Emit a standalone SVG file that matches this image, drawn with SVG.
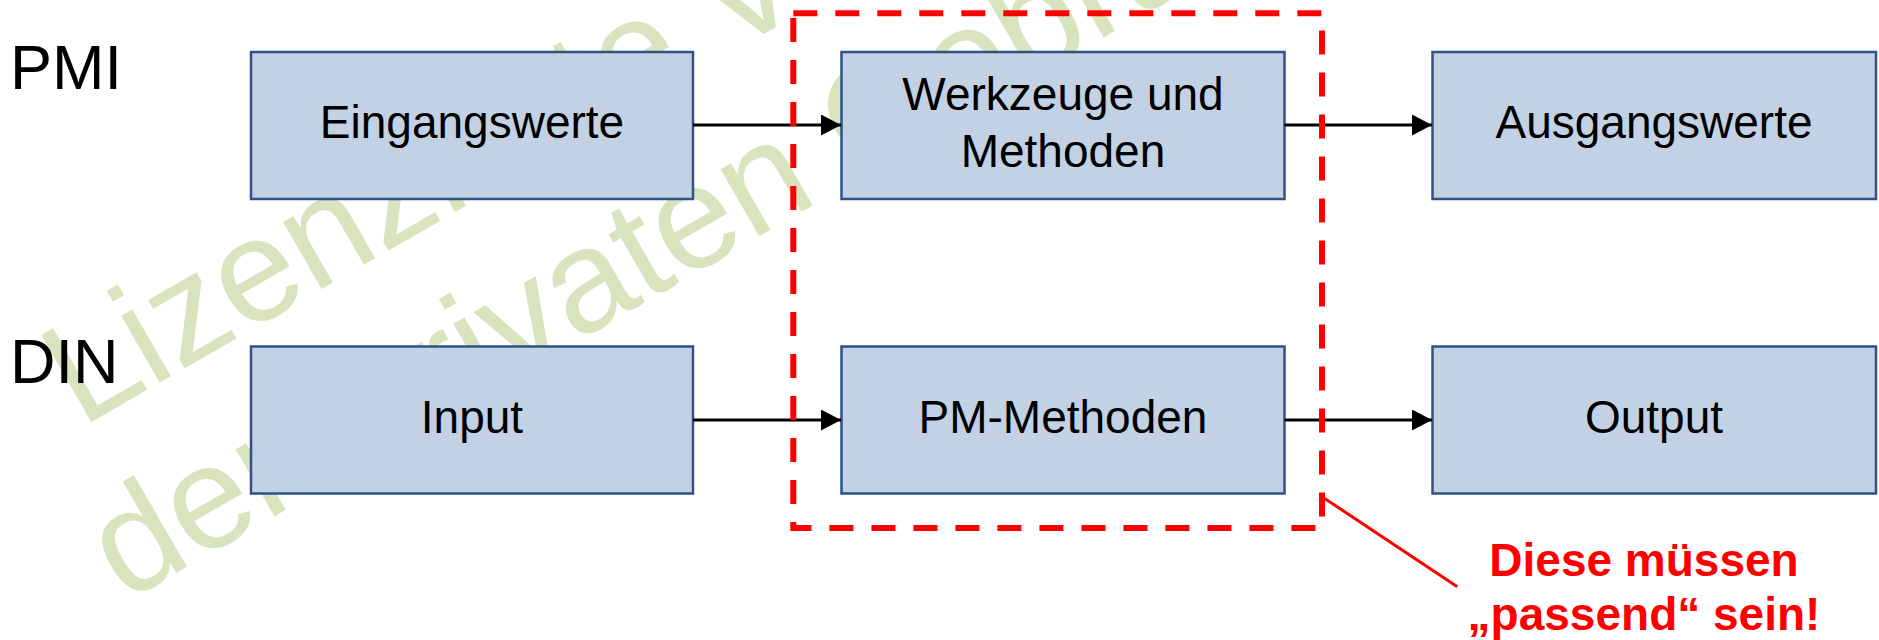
<svg xmlns="http://www.w3.org/2000/svg" width="1879" height="640" viewBox="0 0 1879 640">
  <defs>
    <style>
      .wm { font-family: "Liberation Sans", Arial, sans-serif; font-size: 146px; fill: #D7E4BD; }
      .box { fill: #C2D1E4; stroke: #2F5289; stroke-width: 2.5; }
      .lbl { font-family: "Liberation Sans", Arial, sans-serif; font-size: 46px; fill: #000; text-anchor: middle; }
      .side { font-family: "Liberation Sans", Arial, sans-serif; font-size: 63px; fill: #000; }
      .note { font-family: "Liberation Sans", Arial, sans-serif; font-size: 46px; font-weight: bold; fill: #FF0000; text-anchor: middle; }
      .conn { stroke: #000; stroke-width: 3; fill: none; marker-end: url(#arrow); }
    </style>
    <marker id="arrow" markerUnits="userSpaceOnUse" markerWidth="21" markerHeight="21" refX="20" refY="10.5" orient="auto">
      <path d="M0,0 L20,10.5 L0,21 Z" fill="#000"/>
    </marker>
  </defs>
  <rect width="1879" height="640" fill="#FFFFFF"/>

  <g id="watermark">
    <text class="wm" transform="translate(81,428) rotate(-30)">Lizenzierte Version für</text>
    <text class="wm" transform="translate(125,602.5) rotate(-30)">den privaten Gebrauch</text>
  </g>

  <g id="label-pmi"><text class="side" x="10" y="89">PMI</text></g>
  <g id="label-din"><text class="side" x="10" y="383">DIN</text></g>

  <g id="node-eingangswerte">
    <rect class="box" x="251" y="52" width="442" height="147"/>
    <text class="lbl" x="472" y="138">Eingangswerte</text>
  </g>
  <g id="node-werkzeuge">
    <rect class="box" x="841.5" y="52" width="443" height="147"/>
    <text class="lbl" x="1063" y="110">Werkzeuge und</text>
    <text class="lbl" x="1063" y="166.5">Methoden</text>
  </g>
  <g id="node-ausgangswerte">
    <rect class="box" x="1432.5" y="52" width="443.5" height="147"/>
    <text class="lbl" x="1654" y="138">Ausgangswerte</text>
  </g>
  <g id="node-input">
    <rect class="box" x="251" y="346.5" width="442" height="147"/>
    <text class="lbl" x="472" y="433">Input</text>
  </g>
  <g id="node-pm-methoden">
    <rect class="box" x="841.5" y="346.5" width="443" height="147"/>
    <text class="lbl" x="1063" y="433">PM-Methoden</text>
  </g>
  <g id="node-output">
    <rect class="box" x="1432.5" y="346.5" width="443.5" height="147"/>
    <text class="lbl" x="1654" y="433">Output</text>
  </g>

  <g id="connectors">
    <line class="conn" x1="693" y1="125" x2="841" y2="125"/>
    <line class="conn" x1="1284.5" y1="125" x2="1432" y2="125"/>
    <line class="conn" x1="693" y1="420" x2="841" y2="420"/>
    <line class="conn" x1="1284.5" y1="420" x2="1432" y2="420"/>
  </g>

  <g id="highlight">
    <rect x="793.3" y="13.3" width="528.7" height="514.7" fill="none" stroke="#FF0000" stroke-width="6" stroke-dasharray="24 18"/>
    <line x1="1322" y1="496.7" x2="1457.3" y2="586.7" stroke="#FF0000" stroke-width="3"/>
  </g>

  <g id="note">
    <text class="note" x="1644" y="576">Diese müssen</text>
    <text class="note" x="1644" y="630">„passend“ sein!</text>
  </g>
</svg>
